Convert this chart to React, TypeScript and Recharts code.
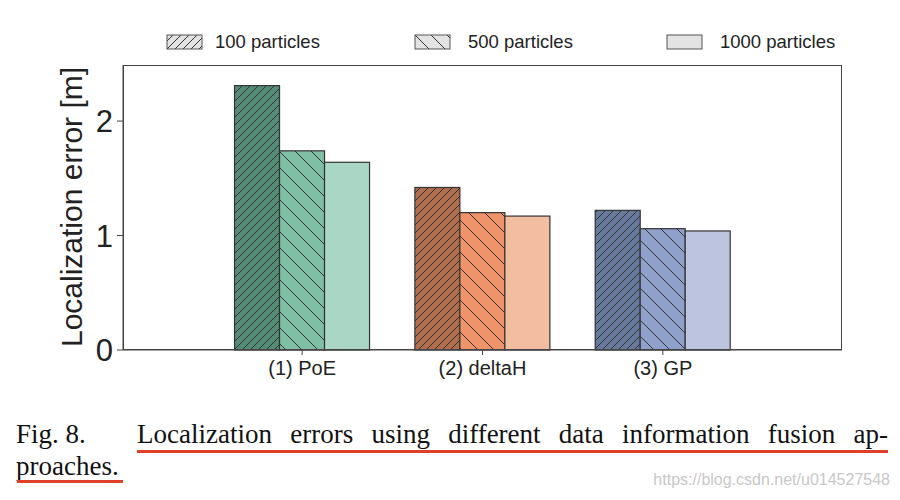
import React from 'react';
import { BarChart, Bar, XAxis, YAxis } from 'recharts';

// values (localization error in metres)
const categories = ['(1) PoE', '(2) deltaH', '(3) GP'];
const p100 = [2.31, 1.42, 1.22];
const p500 = [1.74, 1.2, 1.06];
const p1000 = [1.64, 1.17, 1.04];
const yTicks = [0, 1, 2];

// one shade per approach, darker for fewer particles
const colors100 = ['#558c77', '#b06e4e', '#67799c'];
const colors500 = ['#7fbfa5', '#ee936a', '#8fa0cb'];
const colors1000 = ['#aad6c6', '#f3bda2', '#bcc4df'];

const seriesNames = ['100 particles', '500 particles', '1000 particles'];

const data = categories.map((name, i) => ({
  name,
  p100: p100[i],
  p500: p500[i],
  p1000: p1000[i],
}));

const EDGE = '#333';
const FONT = '"Liberation Sans", Arial, sans-serif';
const SERIF = '"Liberation Serif", "Times New Roman", serif';

const HatchDefs = ({ prefix }: { prefix: string }) => (
  <defs>
    <pattern id={`${prefix}-fwd`} patternUnits="userSpaceOnUse" width={8} height={8}>
      <path d="M0,8 L8,0 M-2,2 L2,-2 M6,10 L10,6" stroke={EDGE} strokeWidth={1} />
    </pattern>
    <pattern id={`${prefix}-back`} patternUnits="userSpaceOnUse" width={16} height={16}>
      <path d="M0,0 L16,16 M-4,12 L4,20 M12,-4 L20,4" stroke={EDGE} strokeWidth={1} />
    </pattern>
  </defs>
);

const makeShape = (palette: string[], hatch: string | null) => (props: any) => {
  const { x, y, width, height, index } = props;
  return (
    <g>
      <rect x={x} y={y} width={width} height={height} fill={palette[index]} />
      {hatch && <rect x={x} y={y} width={width} height={height} fill={`url(#${hatch})`} />}
      <rect x={x} y={y} width={width} height={height} fill="none" stroke={EDGE} strokeWidth={1.2} />
    </g>
  );
};

const LegendItem = ({ label, hatch, left, textLeft, id }: any) => (
  <>
    <svg style={{ position: 'absolute', left, top: 34 }} width={38} height={17}>
      <HatchDefs prefix={id} />
      <rect x={1} y={1} width={35} height={14} fill="#e3e3e3" />
      {hatch && <rect x={1} y={1} width={35} height={14} fill={`url(#${id}-${hatch})`} />}
      <rect x={1} y={1} width={35} height={14} fill="none" stroke="#555" strokeWidth={1} />
    </svg>
    <div style={{ position: 'absolute', left: textLeft, top: 31, fontSize: 18.5, fontFamily: FONT, color: '#222' }}>
      {label}
    </div>
  </>
);

const underline = { position: 'absolute' as const, height: 3, background: '#e0402a' };

export default function App() {
  return (
    <div style={{ position: 'absolute', left: 0, top: 0, width: 900, height: 500, background: '#fff', overflow: 'hidden' }}>
      <LegendItem id="lg1" label={seriesNames[0]} hatch="fwd" left={166} textLeft={215} />
      <LegendItem id="lg2" label={seriesNames[1]} hatch="back" left={414} textLeft={468} />
      <LegendItem id="lg3" label={seriesNames[2]} hatch={null} left={666} textLeft={720} />

      <div style={{ position: 'absolute', left: 0, top: 0 }}>
        <BarChart
          width={900}
          height={400}
          data={data}
          margin={{ top: 65, right: 58, bottom: 10, left: 63 }}
          barCategoryGap="12.5%"
          barGap={0}
        >
          <HatchDefs prefix="bar" />
          <XAxis
            dataKey="name"
            padding={{ left: 89, right: 89 }}
            height={40}
            stroke="#444"
            tickLine={{ stroke: '#444' }}
            tickSize={5}
            tickMargin={6}
            tick={{ fontSize: 20, fill: '#222', fontFamily: FONT }}
          />
          <YAxis
            domain={[0, 2.49]}
            ticks={yTicks}
            width={60}
            stroke="#444"
            tickSize={6}
            tickMargin={4}
            tick={{ fontSize: 31, fill: '#222', fontFamily: FONT }}
          />
          <Bar dataKey="p100" name={seriesNames[0]} isAnimationActive={false} shape={makeShape(colors100, 'bar-fwd')} />
          <Bar dataKey="p500" name={seriesNames[1]} isAnimationActive={false} shape={makeShape(colors500, 'bar-back')} />
          <Bar dataKey="p1000" name={seriesNames[2]} isAnimationActive={false} shape={makeShape(colors1000, null)} />
        </BarChart>
      </div>

      {/* axes frame (top and right spines) */}
      <div style={{ position: 'absolute', left: 123, top: 65, width: 719, height: 285, border: '1px solid #444', boxSizing: 'border-box', pointerEvents: 'none' }} />

      {/* rotated y-axis label */}
      <div
        style={{
          position: 'absolute',
          left: 72,
          top: 207,
          transform: 'translate(-50%, -50%) rotate(-90deg)',
          whiteSpace: 'nowrap',
          fontSize: 30,
          fontFamily: FONT,
          color: '#222',
        }}
      >
        Localization error [m]
      </div>

      {/* caption */}
      <div style={{ position: 'absolute', left: 16, top: 418, fontFamily: SERIF, fontSize: 27, color: '#111', lineHeight: '32px' }}>
        Fig. 8.
      </div>
      <div
        style={{
          position: 'absolute',
          left: 137,
          top: 418,
          width: 751,
          fontFamily: SERIF,
          fontSize: 27,
          color: '#111',
          lineHeight: '32px',
          textAlign: 'justify',
          textAlignLast: 'justify',
        }}
      >
        Localization errors using different data information fusion ap-
      </div>
      <div style={{ ...underline, left: 137, top: 450, width: 751 }} />
      <div style={{ position: 'absolute', left: 16, top: 450, fontFamily: SERIF, fontSize: 27, color: '#111', lineHeight: '32px' }}>
        proaches.
      </div>
      <div style={{ ...underline, left: 17, top: 480, width: 106 }} />

      {/* watermark */}
      <div style={{ position: 'absolute', right: 10, top: 471, fontFamily: FONT, fontSize: 16, color: '#c8c8c8' }}>
        https://blog.csdn.net/u014527548
      </div>
    </div>
  );
}
